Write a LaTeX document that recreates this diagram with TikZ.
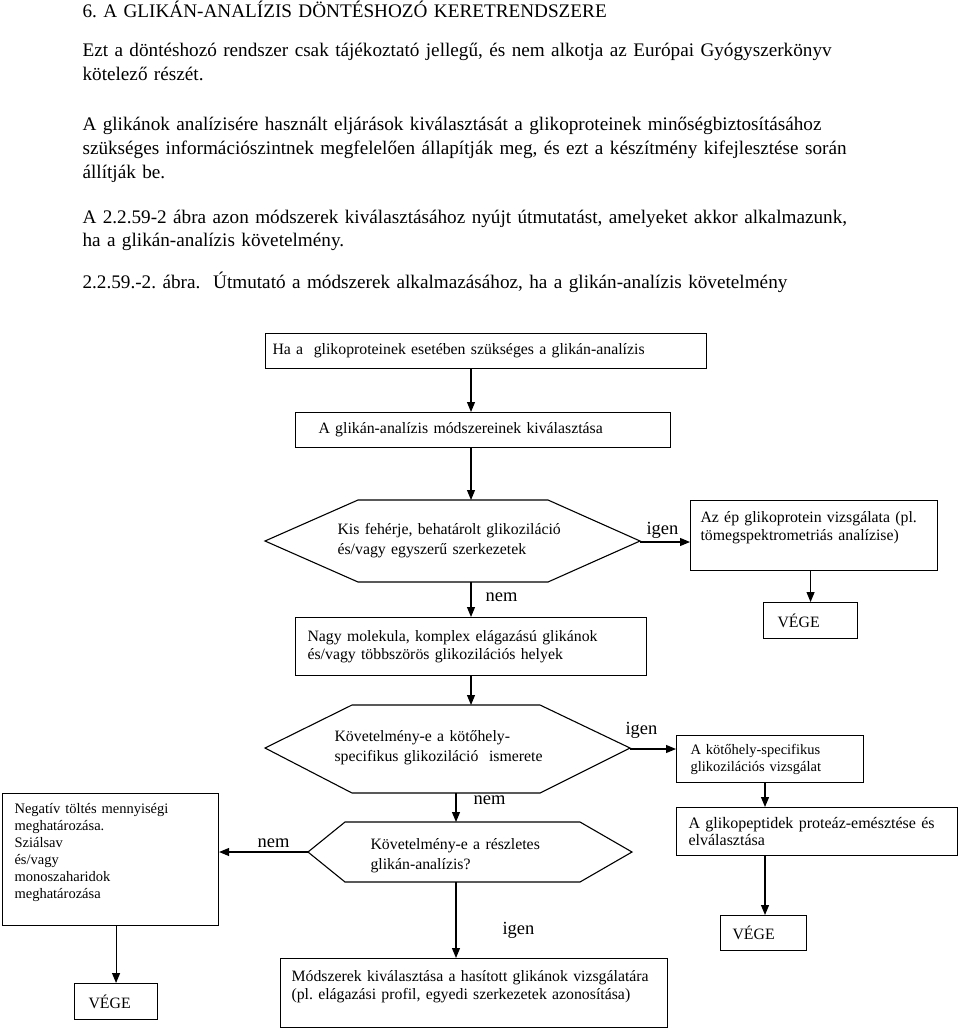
\documentclass[tikz,border=0pt]{standalone}
\usepackage{fontspec}
\setmainfont{Liberation Serif}
\usetikzlibrary{arrows.meta}
\frenchspacing

\tikzset{
  body/.style={anchor=base west, inner sep=0pt, align=left, text width=776pt,
    font=\fontsize{19.2}{24}\selectfont},
  box/.style={draw, anchor=north west, inner sep=0pt, align=left,
    font=\fontsize{15.8}{18}\selectfont},
  smallbox/.style={box, font=\fontsize{14.5}{17}\selectfont},
  hextext/.style={anchor=base west, inner sep=0pt, align=left,
    font=\fontsize{15.8}{20}\selectfont},
  answer/.style={anchor=base west, inner sep=0pt, font=\fontsize{18.5}{20}\selectfont},
}

\begin{document}
\begin{tikzpicture}[x=1pt, y=-1pt, line width=1.1pt, >={Triangle[length=10pt,width=8pt]}]
  \useasboundingbox (0,0) rectangle (960,1032);

  % Heading and text above the chart
  \node[body] (title) at (82,18) {6. A GLIKÁN-ANALÍZIS DÖNTÉSHOZÓ KERETRENDSZERE};
  \node[body] (note) at (82,57) {\makebox[776pt][s]{Ezt a döntéshozó rendszer csak tájékoztató jellegű, és nem alkotja az Európai Gyógyszerkönyv}\\kötelező részét.};
  \node[body] (intro) at (82,131) {\makebox[776pt][s]{A glikánok analízisére használt eljárások kiválasztását a glikoproteinek minőségbiztosításához}\\\makebox[776pt][s]{szükséges információszintnek megfelelően állapítják meg, és ezt a készítmény kifejlesztése során}\\állítják be.};
  \node[body] (ref) at (82,223) {\makebox[776pt][s]{A 2.2.59-2 ábra azon módszerek kiválasztásához nyújt útmutatást, amelyeket akkor alkalmazunk,}\\ha a glikán-analízis követelmény.};
  \node[body] (caption) at (82,288) {2.2.59.-2. ábra.\ \ Útmutató a módszerek alkalmazásához, ha a glikán-analízis követelmény};

  % Start of the chart
  \coordinate (spine) at (471,0);
  \node[box, minimum width=441, minimum height=35, text width=427] (start) at (265,333) {Ha a\ \ glikoproteinek esetében szükséges a glikán-analízis};
  \node[box, minimum width=375, minimum height=35, text width=329] (select) at (295,412) {A glikán-analízis módszereinek kiválasztása};
  \draw[->] (start.south -| spine) -- (select.north -| spine);

  % First decision
  \draw (265,541) -- (358,500) -- (548,500) -- (640,541) -- (548,582) -- (358,582) -- cycle;
  \coordinate (q1n) at (471,500);
  \coordinate (q1s) at (471,582);
  \coordinate (q1e) at (640,542);
  \node[hextext, text width=240] (q1) at (337,534) {Kis fehérje, behatárolt glikoziláció\\és/vagy egyszerű szerkezetek};
  \draw[->] (select.south -| spine) -- (q1n);

  \node[box, minimum width=247, minimum height=70, text width=227] (intact) at (690,500) {Az ép glikoprotein vizsgálata (pl.\\tömegspektrometriás analízise)\rule[-19.5pt]{0pt}{0pt}};
  \node[answer] (yes1) at (646,534) {igen};
  \draw[->] (q1e) -- (q1e -| intact.west);
  \node[box, minimum width=94, minimum height=36, text width=66] (end1) at (763,602) {VÉGE};
  \draw[->] (end1.north |- intact.south) -- (end1.north);

  \node[box, minimum width=351, minimum height=58, text width=327] (large) at (295,617) {Nagy molekula, komplex elágazású glikánok\\és/vagy többszörös glikozilációs helyek};
  \node[answer] (no1) at (485,601) {nem};
  \draw[->] (q1s) -- (large.north -| spine);

  % Second decision
  \draw (265,748) -- (352,705) -- (540,705) -- (630,748) -- (540,793) -- (352,793) -- cycle;
  \coordinate (q2n) at (471,705);
  \coordinate (q2s) at (456,793);
  \coordinate (q2e) at (630,749);
  \node[hextext, text width=230] (q2) at (334,741) {Követelmény-e a kötőhely-\\specifikus glikoziláció\ \ ismerete};
  \draw[->] (large.south -| spine) -- (q2n);

  \coordinate (rspine) at (765,0);
  \node[smallbox, minimum width=187, minimum height=47, text width=159] (site) at (676,735) {A kötőhely-specifikus\\glikozilációs vizsgálat};
  \node[answer] (yes2) at (625,734) {igen};
  \draw[->] (q2e) -- (q2e -| site.west);
  \node[box, minimum width=281, minimum height=48, text width=257, font=\fontsize{16}{17}\selectfont] (digest) at (676,807) {A glikopeptidek proteáz-emésztése és\\elválasztása};
  \draw[->] (site.south -| rspine) -- (digest.north -| rspine);
  \node[box, minimum width=86, minimum height=35, text width=62] (end2) at (720,915) {VÉGE};
  \draw[->] (digest.south -| rspine) -- (end2.north -| rspine);

  % Third decision
  \draw (308,852) -- (345,822) -- (580,822) -- (632,852) -- (580,882) -- (345,882) -- cycle;
  \coordinate (q3n) at (456,822);
  \coordinate (q3s) at (456,882);
  \coordinate (q3w) at (308,852);
  \node[hextext, text width=220] (q3) at (370,849) {Követelmény-e a részletes\\glikán-analízis?};
  \node[answer] (no2) at (473,804) {nem};
  \draw[->] (q2s) -- (q3n);

  \node[smallbox, minimum width=216, minimum height=132, text width=192] (charge) at (2,793) {Negatív töltés mennyiségi\\meghatározása.\\Sziálsav\\és/vagy\\monoszaharidok\\meghatározása\rule[-17pt]{0pt}{0pt}};
  \node[answer] (no3) at (257,847) {nem};
  \draw[->] (q3w) -- (q3w -| charge.east);
  \node[box, minimum width=83, minimum height=36, text width=55] (end3) at (74,983) {VÉGE};
  \draw[->] (end3.north |- charge.south) -- (end3.north);

  \node[box, minimum width=387, minimum height=69, text width=365] (methods) at (280,958) {Módszerek kiválasztása a hasított glikánok vizsgálatára\\(pl. elágazási profil, egyedi szerkezetek azonosítása)\rule[-16.5pt]{0pt}{0pt}};
  \node[answer] (yes3) at (502,934) {igen};
  \draw[->] (q3s) -- (methods.north -| q3s);
\end{tikzpicture}
\end{document}
